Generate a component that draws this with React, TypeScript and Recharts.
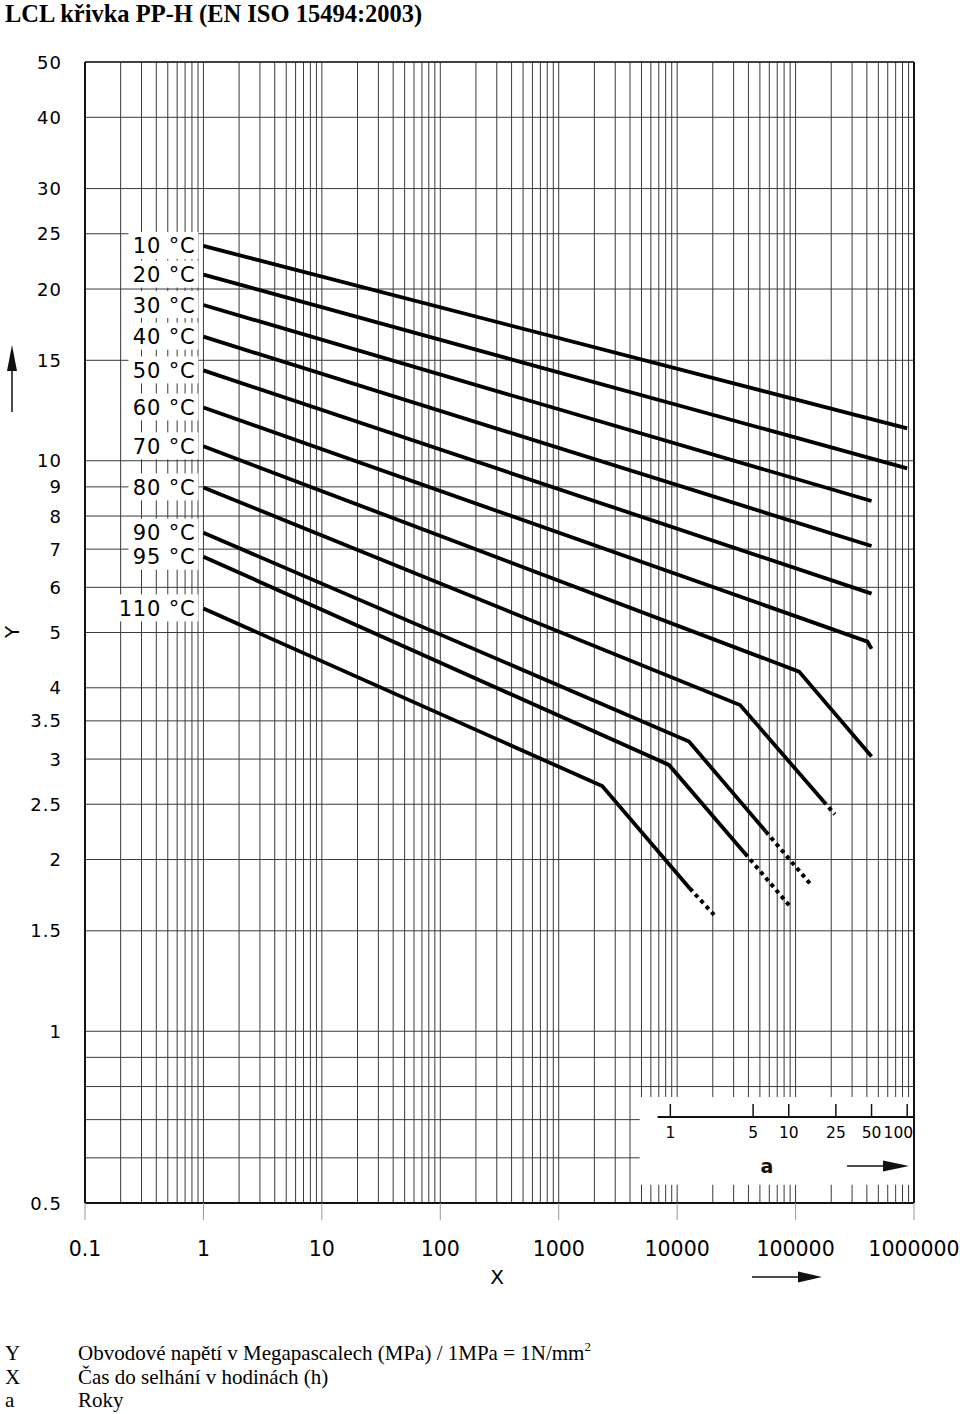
import React from 'react';
import {
  ComposedChart, Line, XAxis, YAxis, CartesianGrid, ReferenceLine, ReferenceArea, Scatter, LabelList,
} from 'recharts';

// hours (h) vs hoop stress (MPa)
const T10 = [{ h: 1, s: 23.8 }, { h: 876000, s: 11.4 }];
const T20 = [{ h: 1, s: 21.2 }, { h: 876000, s: 9.7 }];
const T30 = [{ h: 1, s: 18.75 }, { h: 438000, s: 8.5 }];
const T40 = [{ h: 1, s: 16.5 }, { h: 438000, s: 7.09 }];
const T50 = [{ h: 1, s: 14.4 }, { h: 438000, s: 5.85 }];
const T60 = [{ h: 1, s: 12.4 }, { h: 405000, s: 4.82 }, { h: 438000, s: 4.68 }];
const T70 = [{ h: 1, s: 10.6 }, { h: 107000, s: 4.27 }, { h: 438000, s: 3.03 }];
const T80 = [{ h: 1, s: 8.98 }, { h: 34000, s: 3.73 }, { h: 172000, s: 2.53 }];
const T90 = [{ h: 1, s: 7.48 }, { h: 12600, s: 3.22 }, { h: 56000, s: 2.24 }];
const T95 = [{ h: 1, s: 6.79 }, { h: 8530, s: 2.93 }, { h: 37400, s: 2.05 }];
const T110 = [{ h: 1, s: 5.51 }, { h: 2330, s: 2.69 }, { h: 12800, s: 1.78 }];

// dotted extrapolations
const T80_EXT = [{ h: 172000, s: 2.53 }, { h: 214500, s: 2.4 }];
const T90_EXT = [{ h: 56000, s: 2.24 }, { h: 134000, s: 1.81 }];
const T95_EXT = [{ h: 37400, s: 2.05 }, { h: 91000, s: 1.65 }];
const T110_EXT = [{ h: 12800, s: 1.78 }, { h: 20500, s: 1.6 }];

const SERIES = [
  { name: '10 °C', data: T10 },
  { name: '20 °C', data: T20 },
  { name: '30 °C', data: T30 },
  { name: '40 °C', data: T40 },
  { name: '50 °C', data: T50 },
  { name: '60 °C', data: T60 },
  { name: '70 °C', data: T70 },
  { name: '80 °C', data: T80 },
  { name: '90 °C', data: T90 },
  { name: '95 °C', data: T95 },
  { name: '110 °C', data: T110 },
];
const DOTTED = [T80_EXT, T90_EXT, T95_EXT, T110_EXT];

const DECADES = [0.1, 1, 10, 100, 1000, 10000, 100000];
const MULTS = [1, 2, 3, 4, 5, 6, 7, 8, 9];
const X_GRID = DECADES.flatMap((d) => MULTS.map((m) => +(d * m).toPrecision(3))).concat([1000000]);
const X_LABELS = ['0.1', '1', '10', '100', '1000', '10000', '100000', '1000000'];

const Y_GRID = [0.5, 0.6, 0.7, 0.8, 0.9, 1, 1.5, 2, 2.5, 3, 3.5, 4, 5, 6, 7, 8, 9, 10, 15, 20, 25, 30, 40, 50];
const Y_LABELS = [0.5, 1, 1.5, 2, 2.5, 3, 3.5, 4, 5, 6, 7, 8, 9, 10, 15, 20, 25, 30, 40, 50];

// years scale in the inset (a)
const YEARS = [1, 5, 10, 25, 50, 100];
const HOURS_PER_YEAR = 8760;

// inset layout (in chart units)
const INSET_Y = 0.7075;
const INSET_BOX = { x1: 4830, x2: 1000000, y1: 0.538, y2: 0.767 };
const INSET_LINE_START = 6840;

const SANS = 'DejaVu Sans';
const SERIF = 'Liberation Serif';
const GRID = '#3a3a3a';

const XTick = (props: any) => {
  const { x, y, payload } = props;
  const label = X_LABELS.find((l) => Math.abs(parseFloat(l) - payload.value) < 1e-9);
  if (!label) return null;
  return (
    <g>
      <line x1={x} x2={x} y1={y} y2={y + 17} stroke="#999" strokeWidth={1} />
      <text x={x} y={y + 53} textAnchor="middle" fontFamily={SANS} fontSize={20.5} fill="#000">
        {label}
      </text>
    </g>
  );
};

const YTick = (props: any) => {
  const { x, y, payload } = props;
  if (!Y_LABELS.includes(payload.value)) return null;
  return (
    <text x={x - 23} y={y + 6.5} textAnchor="end" fontFamily={SANS} fontSize={18} letterSpacing={1} fill="#000">
      {payload.value}
    </text>
  );
};

const tempLabel = (name: string) => (p: any) => {
  if (p.index !== 0) return null;
  const w = name.length > 5 ? 84 : 70;
  return (
    <g>
      <rect x={p.x - 5 - w} y={p.y - 14} width={w} height={27} fill="#fff" />
      <text x={p.x - 8} y={p.y + 7.5} textAnchor="end" fontFamily={SANS} fontSize={21} letterSpacing={0.8} fill="#000">
        {name}
      </text>
    </g>
  );
};

const YearTick = (props: any) => {
  const { cx, cy, payload } = props;
  const last = payload.y === YEARS[YEARS.length - 1];
  return (
    <g>
      <line x1={cx} x2={cx} y1={cy} y2={cy - 13} stroke="#111" strokeWidth={1.5} />
      <text
        x={last ? cx + 6 : cx}
        y={cy + 21}
        textAnchor={last ? 'end' : 'middle'}
        fontFamily={SANS}
        fontSize={15.5}
        fill="#000"
      >
        {payload.y}
      </text>
    </g>
  );
};

const Arrow = ({ x1, x2, y, head = 22, half = 5 }: any) => (
  <g>
    <line x1={x1} x2={x2 - head + 2} y1={y} y2={y} stroke="#111" strokeWidth={1.5} />
    <polygon points={`${x2},${y} ${x2 - head},${y - half} ${x2 - head},${y + half}`} fill="#111" />
  </g>
);

export default function App() {
  const yearPoints = YEARS.map((y) => ({ h: y * HOURS_PER_YEAR, s: INSET_Y, y }));
  return (
    <div style={{ position: 'absolute', left: 0, top: 0, width: 960, height: 1414, background: '#fff' }}>
      <ComposedChart
        width={960}
        height={1300}
        margin={{ top: 62, right: 46, bottom: 0, left: 0 }}
        style={{ position: 'absolute', left: 0, top: 0 }}
      >
        <CartesianGrid stroke={GRID} strokeWidth={1} />
        <XAxis
          type="number"
          dataKey="h"
          scale="log"
          domain={[0.1, 1000000]}
          ticks={X_GRID}
          interval={0}
          tick={<XTick />}
          tickSize={0}
          tickMargin={0}
          tickLine={false}
          height={97}
          axisLine={{ stroke: '#111', strokeWidth: 2 }}
        />
        <YAxis
          type="number"
          scale="log"
          domain={[0.5, 50]}
          ticks={Y_GRID}
          interval={0}
          tick={<YTick />}
          tickSize={0}
          tickMargin={0}
          tickLine={false}
          width={85}
          axisLine={{ stroke: '#111', strokeWidth: 2 }}
        />
        <ReferenceArea
          x1={INSET_BOX.x1}
          x2={INSET_BOX.x2}
          y1={INSET_BOX.y1}
          y2={INSET_BOX.y2}
          fill="#fff"
          fillOpacity={1}
          stroke="none"
        />
        <ReferenceLine y={50} stroke="#222" strokeWidth={1.5} />
        <ReferenceLine x={1000000} stroke="#111" strokeWidth={2} />
        <ReferenceLine
          segment={[{ x: INSET_LINE_START, y: INSET_Y }, { x: 1000000, y: INSET_Y }]}
          stroke="#111"
          strokeWidth={2}
        />
        {SERIES.map((sr) => (
          <Line
            key={sr.name}
            data={sr.data}
            dataKey="s"
            stroke="#000"
            strokeWidth={3.8}
            dot={false}
            activeDot={false}
            isAnimationActive={false}
          >
            <LabelList dataKey="s" content={tempLabel(sr.name)} />
          </Line>
        ))}
        {DOTTED.map((d, i) => (
          <Line
            key={'ext' + i}
            data={d}
            dataKey="s"
            stroke="#000"
            strokeWidth={4}
            strokeDasharray="4 4"
            dot={false}
            activeDot={false}
            isAnimationActive={false}
          />
        ))}
        <Scatter data={yearPoints} dataKey="s" shape={<YearTick />} isAnimationActive={false} />
      </ComposedChart>

      <svg width={960} height={1414} style={{ position: 'absolute', left: 0, top: 0, pointerEvents: 'none' }}>
        <text x={5} y={22} fontFamily={SERIF} fontWeight="bold" fontSize={24.5} fill="#000">
          LCL křivka PP-H (EN ISO 15494:2003)
        </text>

        {/* Y axis name + arrow */}
        <text x={19} y={632} transform="rotate(-90 19 632)" textAnchor="middle" fontFamily={SANS} fontSize={20} fill="#000">
          Y
        </text>
        <line x1={12} x2={12} y1={412} y2={362} stroke="#111" strokeWidth={1.5} />
        <polygon points="12,345 7,371 17,371" fill="#111" />

        {/* X axis name + arrow */}
        <text x={497} y={1284} textAnchor="middle" fontFamily={SANS} fontSize={20} fill="#000">
          X
        </text>
        <Arrow x1={752} x2={822} y={1277} head={24} half={5.5} />

        {/* inset legend */}
        <text x={767} y={1173} textAnchor="middle" fontFamily={SANS} fontWeight="bold" fontSize={19} fill="#111">
          a
        </text>
        <Arrow x1={847} x2={909} y={1166} head={26} half={5.5} />

        {/* footnotes */}
        <g fontFamily={SERIF} fontSize={21} fill="#000">
          <text x={5} y={1360}>Y</text>
          <text x={78} y={1360}>
            Obvodové napětí v Megapascalech (MPa) / 1MPa = 1N/mm
            <tspan fontSize={13} dy={-9}>2</tspan>
          </text>
          <text x={5} y={1384}>X</text>
          <text x={78} y={1384}>Čas do selhání v hodinách (h)</text>
          <text x={5} y={1407}>a</text>
          <text x={78} y={1407}>Roky</text>
        </g>
      </svg>
    </div>
  );
}
